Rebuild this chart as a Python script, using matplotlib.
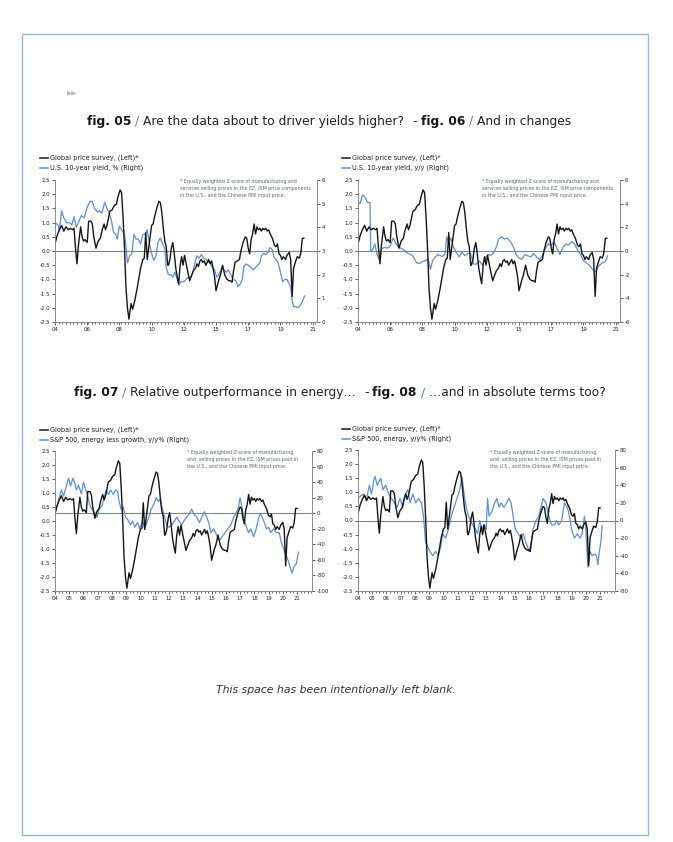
import matplotlib
matplotlib.use("Agg")
import matplotlib.pyplot as plt
from matplotlib.lines import Line2D
from matplotlib.patches import Rectangle
from matplotlib.ticker import FixedLocator, MultipleLocator

plt.rcParams["font.family"] = ["DejaVu Sans"]
plt.rcParams["axes.unicode_minus"] = False

W, H = 673, 842
BLACK, BLUE, GREY = "#161616", "#5b8fd8", "#7a8787"

# ---- global price survey (left axis, same in every panel) ----
gps_t = [2004.0, 2004.15, 2004.3, 2004.45, 2004.6, 2004.75, 2004.9, 2005.05, 2005.2, 2005.3,
         2005.4, 2005.5, 2005.6, 2005.75, 2005.85, 2005.95, 2006.05, 2006.2, 2006.3, 2006.45,
         2006.55, 2006.65, 2006.8, 2006.95, 2007.1, 2007.2, 2007.35, 2007.45, 2007.55, 2007.75,
         2007.9, 2008.05, 2008.2, 2008.3, 2008.45, 2008.55, 2008.65, 2008.75, 2008.85, 2008.95,
         2009.05, 2009.2, 2009.3, 2009.45, 2009.6, 2009.75, 2009.85, 2010.0, 2010.1, 2010.2,
         2010.3, 2010.45, 2010.6, 2010.7, 2010.8, 2010.95, 2011.1, 2011.2, 2011.3, 2011.4,
         2011.5, 2011.6, 2011.7, 2011.75, 2011.85, 2011.95, 2012.05, 2012.15, 2012.25, 2012.35,
         2012.45, 2012.55, 2012.65, 2012.75, 2012.85, 2013.0, 2013.2, 2013.3, 2013.45, 2013.6,
         2013.7, 2013.8, 2013.9, 2014.0, 2014.1, 2014.2, 2014.3, 2014.4, 2014.5, 2014.6,
         2014.7, 2014.8, 2014.9, 2015.0, 2015.1, 2015.2, 2015.3, 2015.45, 2015.6, 2015.75,
         2015.9, 2016.0, 2016.1, 2016.2, 2016.3, 2016.45, 2016.6, 2016.7, 2016.85, 2017.0,
         2017.1, 2017.2, 2017.3, 2017.4, 2017.5, 2017.6, 2017.7, 2017.8, 2017.9, 2018.0,
         2018.1, 2018.2, 2018.3, 2018.4, 2018.5, 2018.6, 2018.7, 2018.85, 2019.0, 2019.1,
         2019.2, 2019.3, 2019.4, 2019.5, 2019.6, 2019.75, 2019.85, 2020.0, 2020.1, 2020.2,
         2020.3, 2020.45, 2020.55, 2020.7, 2020.8, 2020.9, 2021.0]
gps_v = [0.25, 0.55, 0.75, 0.9, 0.7, 0.85, 0.75, 0.8, 0.75, 0.8,
         0.1, -0.45, 0.2, 0.85, 0.5, 0.35, 0.4, 0.3, 1.05, 1.05,
         0.95, 0.5, 0.1, 0.35, 0.45, 0.7, 0.95, 0.75, 0.9, 1.4,
         1.45, 1.6, 1.65, 1.9, 2.15, 2.05, 1.2, 0.1, -1.3, -2.0,
         -2.4, -1.85, -2.05, -1.75, -1.35, -0.9, -0.6, -0.3, -0.25, 0.65,
         -0.3, 0.3, 0.9, 0.95, 1.2, 1.5, 1.75, 1.7, 1.35, 0.8,
         0.35, 0.15, -0.5, -0.5, -0.3, 0.1, 0.3, -0.1, -0.6, -0.9,
         -1.15, -0.5, -0.2, -0.5, -0.15, -0.55, -1.05, -0.9, -0.7, -0.6,
         -0.45, -0.55, -0.35, -0.3, -0.4, -0.35, -0.5, -0.4, -0.3, -0.45,
         -0.35, -0.6, -0.9, -1.4, -1.2, -1.0, -0.85, -0.5, -0.85, -1.0,
         -1.05, -1.05, -1.1, -0.7, -0.4, -0.35, -0.3, 0.0, 0.3, 0.5,
         0.45, 0.1, -0.1, 0.4, 0.6, 0.95, 0.6, 0.85, 0.75, 0.8,
         0.7, 0.8, 0.75, 0.8, 0.7, 0.75, 0.6, 0.45, 0.2, 0.15,
         0.25, -0.1, -0.15, -0.3, -0.2, -0.3, -0.15, -0.05, -0.3, -1.6,
         -0.6, -0.35, -0.2, -0.25, -0.05, 0.45, 0.45]

# ---- fig. 05: U.S. 10-year yield, % ----
yld_t = [2004.0, 2004.2, 2004.3, 2004.45, 2004.6, 2004.8, 2005.0, 2005.15, 2005.3, 2005.45,
         2005.6, 2005.8, 2006.0, 2006.2, 2006.4, 2006.55, 2006.7, 2006.9, 2007.05, 2007.2,
         2007.4, 2007.55, 2007.7, 2007.85, 2008.0, 2008.15, 2008.25, 2008.4, 2008.55, 2008.75,
         2008.85, 2008.95, 2009.1, 2009.25, 2009.4, 2009.55, 2009.7, 2009.85, 2010.0, 2010.15,
         2010.3, 2010.45, 2010.6, 2010.75, 2010.9, 2011.05, 2011.2, 2011.35, 2011.5, 2011.6,
         2011.75, 2011.9, 2012.05, 2012.2, 2012.35, 2012.45, 2012.6, 2012.8, 2012.95, 2013.1,
         2013.3, 2013.45, 2013.6, 2013.7, 2013.85, 2014.0, 2014.15, 2014.3, 2014.45, 2014.6,
         2014.75, 2014.9, 2015.05, 2015.2, 2015.4, 2015.55, 2015.7, 2015.85, 2016.0, 2016.15,
         2016.35, 2016.5, 2016.65, 2016.8, 2016.9, 2017.05, 2017.2, 2017.4, 2017.55, 2017.7,
         2017.85, 2018.0, 2018.1, 2018.25, 2018.4, 2018.55, 2018.7, 2018.85, 2018.95, 2019.1,
         2019.25, 2019.4, 2019.55, 2019.7, 2019.85, 2020.0, 2020.1, 2020.2, 2020.3, 2020.45,
         2020.6, 2020.75, 2020.9, 2021.05]
yld_v = [4.2, 4.1, 3.85, 4.7, 4.4, 4.2, 4.2, 4.1, 4.45, 4.0,
         4.2, 4.5, 4.4, 4.85, 5.1, 5.1, 4.8, 4.65, 4.7, 4.6,
         5.05, 4.8, 4.6, 4.3, 3.8, 3.7, 3.5, 4.05, 3.9, 3.7,
         3.2, 2.5, 2.8, 2.9, 3.7, 3.5, 3.5, 3.3, 3.7, 3.7,
         3.9, 3.3, 2.9, 2.6, 2.8, 3.4, 3.55, 3.3, 3.1, 2.3,
         2.0, 2.0, 1.9, 2.1, 1.8, 1.55, 1.7, 1.7, 1.8, 1.9,
         1.9, 2.2, 2.6, 2.8, 2.7, 2.85, 2.7, 2.65, 2.55, 2.5,
         2.3, 2.2, 1.9, 2.0, 2.3, 2.2, 2.1, 2.2, 2.0, 1.8,
         1.75, 1.5, 1.6, 1.8, 2.35, 2.45, 2.4, 2.3, 2.2, 2.3,
         2.4, 2.5, 2.8, 2.9, 2.85, 2.95, 3.15, 3.05, 2.75, 2.65,
         2.5, 2.1, 1.7, 1.8, 1.8, 1.6, 1.5, 0.9, 0.65, 0.65,
         0.6, 0.7, 0.85, 1.1]

# ---- fig. 06: U.S. 10-year yield, y/y ----
chg_t = [2004.0, 2004.15, 2004.3, 2004.5, 2004.65, 2004.82, 2004.87, 2005.0, 2005.15, 2005.3,
         2005.45, 2005.6, 2005.8, 2006.0, 2006.2, 2006.4, 2006.6, 2006.8, 2007.0, 2007.2,
         2007.4, 2007.6, 2007.8, 2008.0, 2008.2, 2008.4, 2008.6, 2008.8, 2008.95, 2009.1,
         2009.3, 2009.45, 2009.6, 2009.8, 2009.95, 2010.05, 2010.2, 2010.35, 2010.5, 2010.7,
         2010.9, 2011.1, 2011.3, 2011.5, 2011.7, 2011.9, 2012.1, 2012.3, 2012.5, 2012.7,
         2012.9, 2013.1, 2013.3, 2013.5, 2013.6, 2013.8, 2014.0, 2014.2, 2014.4, 2014.6,
         2014.8, 2015.0, 2015.2, 2015.4, 2015.6, 2015.8, 2016.0, 2016.2, 2016.4, 2016.6,
         2016.8, 2017.0, 2017.2, 2017.4, 2017.6, 2017.8, 2018.0, 2018.2, 2018.4, 2018.6,
         2018.8, 2019.0, 2019.2, 2019.4, 2019.6, 2019.8, 2020.0, 2020.2, 2020.35, 2020.5,
         2020.7, 2020.9, 2021.05]
chg_v = [4.2, 4.0, 4.75, 4.5, 4.1, 4.1, 0.0, 0.1, 0.6, -0.3,
         -0.7, 0.2, 0.3, 0.25, 0.4, 1.1, 0.6, 0.3, 0.2, 0.05,
         -0.2, -0.3, -0.5, -1.0, -1.05, -0.9, -0.8, -0.7, -1.55, -0.8,
         -0.5, -0.3, -0.4, -0.45, -0.2, 1.2, 0.7, 1.1, 0.4, -0.1,
         -0.5, -0.1, -0.4, -0.2, -0.25, -1.1, -1.1, -0.85, -1.2, -0.6,
         -0.3, -0.35, -0.1, 0.5, 1.0, 1.2, 1.0, 1.1, 0.8, 0.4,
         -0.3, -0.6, -0.7, -0.3, -0.4, -0.5, -0.2, -0.5, -0.75, -0.4,
         0.2, 0.6, 0.5, 0.8, 0.2, -0.3, 0.3, 0.6, 0.5, 0.8,
         0.6, 0.1, -0.3, -0.8, -1.0, -1.2, -1.5, -1.75, -1.5, -1.2,
         -1.0, -0.9, -0.4]

# ---- fig. 07: S&P 500, energy less growth, y/y% ----
rel_t = [2004.0, 2004.15, 2004.3, 2004.45, 2004.6, 2004.8, 2004.95, 2005.1, 2005.25, 2005.4,
         2005.5, 2005.65, 2005.85, 2006.0, 2006.15, 2006.3, 2006.45, 2006.6, 2006.8, 2006.95,
         2007.1, 2007.3, 2007.45, 2007.6, 2007.75, 2007.9, 2008.1, 2008.25, 2008.4, 2008.5,
         2008.65, 2008.8, 2008.95, 2009.1, 2009.3, 2009.45, 2009.6, 2009.8, 2009.95, 2010.15,
         2010.3, 2010.45, 2010.6, 2010.75, 2010.95, 2011.1, 2011.25, 2011.4, 2011.55, 2011.7,
         2011.85, 2012.0, 2012.2, 2012.4, 2012.55, 2012.7, 2012.9, 2013.05, 2013.25, 2013.45,
         2013.6, 2013.8, 2013.95, 2014.15, 2014.3, 2014.5, 2014.65, 2014.8, 2014.95, 2015.15,
         2015.35, 2015.55, 2015.75, 2015.95, 2016.15, 2016.35, 2016.55, 2016.7, 2016.85, 2017.0,
         2017.15, 2017.3, 2017.45, 2017.6, 2017.75, 2017.95, 2018.1, 2018.25, 2018.4, 2018.55,
         2018.7, 2018.85, 2019.0, 2019.15, 2019.35, 2019.55, 2019.75, 2019.9, 2020.05, 2020.25,
         2020.4, 2020.55, 2020.65, 2020.8, 2020.95, 2021.05, 2021.1]
rel_v = [0, 10, 20, 30, 22, 35, 45, 35, 45, 38,
         30, 36, 25, 40, 30, 22, 10, 5, 0, -5,
         5, 10, 20, 30, 24, 30, 24, 30, 28, 15,
         5, 8, -5, -8, -15, -10, -18, -12, -20, -10,
         -20, -12, -5, 5, 12, 20, 15, 18, 5, -5,
         -15, -18, -15, -10, -5, -10, -15, -10, -5, 0,
         5, -2, -5, -12, -5, 2, -5, -12, -25, -20,
         -28, -35, -30, -25, -20, -15, -5, 0, 5, 20,
         5, -10, -18, -25, -20, -30, -22, -10, 0, -5,
         -12, -20, -18, -25, -20, -25, -25, -38, -45, -55,
         -62, -72, -77, -68, -65, -55, -50]

# ---- fig. 08: S&P 500, energy, y/y% ----
eng_t = [2004.0, 2004.2, 2004.4, 2004.6, 2004.8, 2004.95, 2005.1, 2005.2, 2005.35, 2005.5,
         2005.6, 2005.75, 2005.95, 2006.15, 2006.35, 2006.55, 2006.75, 2006.95, 2007.15, 2007.35,
         2007.5, 2007.65, 2007.85, 2008.05, 2008.25, 2008.45, 2008.6, 2008.75, 2008.9, 2009.05,
         2009.25, 2009.45, 2009.65, 2009.8, 2009.95, 2010.15, 2010.35, 2010.55, 2010.75, 2010.95,
         2011.15, 2011.3, 2011.45, 2011.6, 2011.75, 2011.9, 2012.05, 2012.25, 2012.4, 2012.55,
         2012.7, 2012.85, 2013.0, 2013.1, 2013.2, 2013.4, 2013.6, 2013.75, 2013.9, 2014.05,
         2014.25, 2014.45, 2014.6, 2014.75, 2014.9, 2015.05, 2015.25, 2015.45, 2015.6, 2015.8,
         2016.0, 2016.15, 2016.3, 2016.5, 2016.7, 2016.85, 2017.0, 2017.2, 2017.4, 2017.6,
         2017.8, 2017.95, 2018.1, 2018.3, 2018.5, 2018.7, 2018.85, 2019.0, 2019.2, 2019.4,
         2019.6, 2019.75, 2019.9, 2020.0, 2020.15, 2020.3, 2020.45, 2020.6, 2020.75, 2020.85,
         2020.95, 2021.05, 2021.15]
eng_v = [25, 28, 30, 25, 40, 30, 45, 50, 40, 45,
         48, 35, 40, 30, 25, 20, 15, 25, 15, 30,
         35, 20, 30, 20, 25, 20, 5, -25, -30, -35,
         -40, -35, -40, -30, -15, -20, -10, 5, 15, 25,
         35, 50, 30, 15, 5, 0, -5, -10, -15, 0,
         -10, -5, -10, 25, 5, 10, 20, 25, 15, 20,
         15, 20, 25, 20, 5, -10, -15, -20, -15, -25,
         -35, -25, -10, 0, 5, 15, 25, 20, 5, -5,
         -5, 0, -5, 0, 20, 15, 5, -10, -20, -15,
         -20, -15, 5, -10, -53, -35, -40, -38, -40, -50,
         -35, -25, -6]

left_ticks = [2.5, 2.0, 1.5, 1.0, 0.5, 0.0, -0.5, -1.0, -1.5, -2.0, -2.5]
top_xlabels = ["04", "06", "08", "10", "12", "15", "17", "19", "21"]
bot_xlabels = ["04", "05", "06", "07", "08", "09", "10", "11", "12",
               "13", "14", "15", "16", "17", "18", "19", "20", "21"]

NOTE_A = ("* Equally weighted Z-score of manufacturing and\n"
          "services selling prices in the EZ, ISM price components\n"
          "in the U.S., and the Chinese PMI input price.")
NOTE_B = ("* Equally weighted Z-score of manufacturing\n"
          "and  selling prices in the EZ, ISM prices paid in\n"
          "the U.S., and the Chinese PMI input price.")

fig = plt.figure(figsize=(W / 100, H / 100), dpi=100)


def fx(x):
    return x / W


def fy(y):
    return 1 - y / H


def style(a):
    a.tick_params(labelsize=3.9, length=2, width=0.5, pad=1.5, colors="#222222")
    a.tick_params(which="minor", length=1.2, width=0.4)
    for s in a.spines.values():
        s.set_color("#8c8c8c")
        s.set_linewidth(0.6)
    a.spines["top"].set_visible(False)


def panel(box, bt, bv, rlim, rstep, blue_label, note, note_xy, leg_x, leg_y, top, zero_right):
    x0, y0, x1, y1 = box
    ax = fig.add_axes([fx(x0), fy(y1), fx(x1 - x0), (y1 - y0) / H])
    ax2 = ax.twinx()
    ax2.plot(bt, bv, color=BLUE, lw=0.9)
    ax.plot(gps_t, gps_v, color=BLACK, lw=1.0)
    ax.set_zorder(ax2.get_zorder() + 1)
    ax.patch.set_visible(False)
    if zero_right:
        ax2.axhline(0, color=GREY, lw=0.8, zorder=0)
    else:
        ax.axhline(0, color=GREY, lw=0.8, zorder=0)
    ax.set_ylim(-2.5, 2.5)
    ax.set_yticks(left_ticks)
    ax.set_yticklabels([f"{v:.1f}" for v in left_ticks])
    ax2.set_ylim(*rlim)
    ax2.yaxis.set_major_locator(MultipleLocator(rstep))
    if top:
        ax.set_xlim(2004, 2021.9)
        ax.xaxis.set_major_locator(FixedLocator([2004 + 2.2 * k for k in range(9)]))
        ax.set_xticklabels(top_xlabels)
    else:
        ax.set_xlim(2004, 2022.05)
        ax.xaxis.set_major_locator(FixedLocator(list(range(2004, 2022))))
        ax.set_xticklabels(bot_xlabels)
    ax.xaxis.set_minor_locator(MultipleLocator(0.25))
    style(ax)
    style(ax2)
    # legend drawn by hand, as in the source layout
    for i, (lab, col) in enumerate([("Global price survey, (Left)*", BLACK), (blue_label, BLUE)]):
        yy = leg_y + i * 10.5
        fig.add_artist(Line2D([fx(leg_x), fx(leg_x + 8)], [fy(yy), fy(yy)], color=col, lw=1.1))
        fig.text(fx(leg_x + 10.5), fy(yy), lab, fontsize=4.7, color="#1e1e1e", va="center", ha="left")
    fig.text(fx(note_xy[0]), fy(note_xy[1]), note, fontsize=3.4, color="#5b6b6b",
             va="top", ha="left", linespacing=1.55)


panel((55, 180, 317, 322), yld_t, yld_v, (0, 6), 1, "U.S. 10-year yield, % (Right)",
      NOTE_A, (180, 179), 40, 157.5, True, False)
panel((358, 180, 620, 322), chg_t, chg_v, (-6, 6), 2, "U.S. 10-year yield, y/y (Right)",
      NOTE_A, (482, 179), 342, 157.5, True, False)
panel((55, 451, 312, 591), rel_t, rel_v, (-100, 80), 20,
      "S&P 500, energy less growth, y/y% (Right)", NOTE_B, (187, 450), 40, 429.5, False, True)
panel((358, 450, 615, 591), eng_t, eng_v, (-80, 80), 20, "S&P 500, energy, y/y% (Right)",
      NOTE_B, (490, 450), 342, 428.5, False, False)

# ---- page furniture ----
fig.add_artist(Rectangle((fx(22), fy(835)), fx(626), 801 / H, transform=fig.transFigure,
                         fill=False, ec="#86bbe8", lw=1.0))
fig.text(fx(67), fy(92), "\u25b8\u25b8", fontsize=7.5, color="#b5b5b5", va="center", ha="left")


def rich(x, y, parts, size=8.8):
    r = fig.canvas.get_renderer()
    space = size * 100 / 72 * 0.32
    for s, bold, col, nsp in parts:
        t = fig.text(fx(x), fy(y), s, fontsize=size, color=col, va="baseline", ha="left",
                     fontweight="bold" if bold else "normal")
        x += t.get_window_extent(r).width + nsp * space


SL = "#4a86c8"
rich(87, 125, [("fig. 05", True, BLACK, 1), ("/", False, SL, 1),
               ("Are the data about to driver yields higher?", False, "#222222", 2),
               ("-", False, "#222222", 1), ("fig. 06", True, BLACK, 1), ("/", False, SL, 1),
               ("And in changes", False, "#222222", 0)])
rich(74, 396, [("fig. 07", True, BLACK, 1), ("/", False, SL, 1),
               ("Relative outperformance in energy\u2026", False, "#222222", 2),
               ("-", False, "#222222", 1), ("fig. 08", True, BLACK, 1), ("/", False, SL, 1),
               ("\u2026and in absolute terms too?", False, "#222222", 0)])

fig.text(fx(336), fy(693), "This space has been intentionally left blank.", fontsize=7.8,
         style="italic", color="#333333", ha="center", va="baseline")

fig.savefig("out.png", dpi=100)
